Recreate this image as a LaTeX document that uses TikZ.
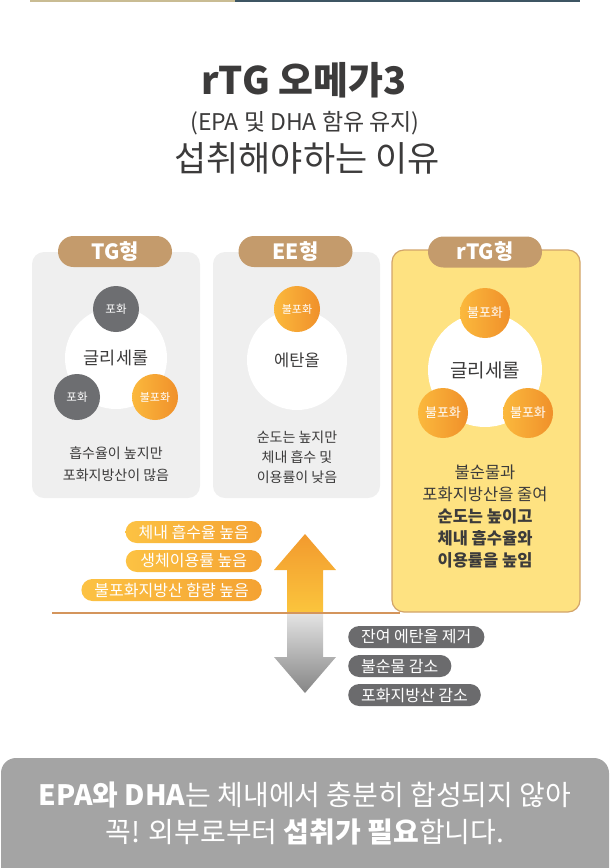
\documentclass[tikz,border=0pt]{standalone}
\usepackage{fontspec}
\setmainfont{Noto Sans CJK KR}
\newcommand{\txtsize}[2]{\fontsize{#1}{#2}\selectfont}

\definecolor{darktext}{HTML}{3C3B3B}
\definecolor{panelgray}{HTML}{EFEFEF}
\definecolor{tagtan}{HTML}{C49B6C}
\definecolor{satgray}{HTML}{6D6E71}
\definecolor{unsatlight}{HTML}{FBB93D}
\definecolor{unsatdark}{HTML}{F0902A}
\definecolor{rtgyellow}{HTML}{FEE281}
\definecolor{rtgedge}{HTML}{D2A46A}
\definecolor{divline}{HTML}{D4955C}
\definecolor{gainlight}{HTML}{FCC243}
\definecolor{gaindark}{HTML}{F4A233}
\definecolor{lossgray}{HTML}{6B6B6D}
\definecolor{uptop}{HTML}{F29A2E}
\definecolor{upbottom}{HTML}{FBC53D}
\definecolor{downtop}{HTML}{E4E4E4}
\definecolor{downbottom}{HTML}{858585}
\definecolor{bannergray}{HTML}{A4A4A4}
\definecolor{stripbeige}{HTML}{C9BC93}
\definecolor{stripslate}{HTML}{3E5563}

\begin{document}
\begin{tikzpicture}[x=1pt, y=-1pt,
  panel/.style={rectangle, rounded corners=12pt, fill=panelgray, inner sep=0pt},
  tag/.style={rectangle, rounded corners=15.5pt, fill=tagtan, minimum width=114pt, minimum height=31pt, inner sep=0pt, text=white, font=\txtsize{21}{21}\bfseries},
  core/.style={circle, fill=white, inner sep=0pt, text=darktext},
  acid/.style={circle, inner sep=0pt, minimum size=46pt, text=white, font=\txtsize{11.5}{11.5}},
  sat/.style={acid, fill=satgray},
  unsat/.style={acid, left color=unsatlight, right color=unsatdark},
  note/.style={align=center, text=darktext},
  pill/.style={rectangle, rounded corners=11pt, minimum height=22pt, inner xsep=13pt, inner ysep=0pt, text=white, font=\txtsize{16}{16}},
  gain/.style={pill, left color=gainlight, right color=gaindark, anchor=east},
  loss/.style={pill, fill=lossgray, anchor=west}]

\useasboundingbox (0,0) rectangle (610,868);

\fill[stripbeige] (30,0) rectangle (235,2);
\fill[stripslate] (235,0) rectangle (580,2);

\node[font=\txtsize{38}{38}\bfseries, text=darktext] (title) at (304,80) {rTG 오메가3};
\node[font=\txtsize{23}{23}, text=darktext] (subtitle) at (305,123) {(EPA 및 DHA 함유 유지)};
\node[font=\txtsize{35}{35}, text=darktext] (reason) at (307,158) {섭취해야하는 이유};

\node[panel, minimum width=168pt, minimum height=246pt] (tgbox) at (116,375) {};
\node[panel, minimum width=167pt, minimum height=246pt] (eebox) at (296.5,375) {};

\path[top color=uptop, bottom color=upbottom] (287,613) -- (287,570) -- (274,570) -- (305,534) -- (336,570) -- (323,570) -- (323,613) -- cycle;
\path[top color=downtop, bottom color=downbottom] (287,613) -- (323,613) -- (323,657) -- (336,657) -- (305,693) -- (274,657) -- (287,657) -- cycle;

\coordinate (divleft) at (52,613);
\coordinate (divright) at (400,613);
\draw[divline, line width=1.3pt] (divleft) -- (divright);

\node[panel, fill=rtgyellow, draw=rtgedge, line width=1.2pt, minimum width=188pt, minimum height=362pt] (rtgbox) at (486,431) {};

\node[core, minimum size=102pt, font=\txtsize{17.5}{17.5}] (tgcore) at (116,358) {글리세롤};
\node[sat] (tgtop) at (116,309) {포화};
\node[sat] (tgleft) at (77,397) {포화};
\node[unsat, font=\txtsize{11}{11}] (tgright) at (155,397) {불포화};

\node[core, minimum size=100pt, font=\txtsize{16.5}{16.5}] (eecore) at (297,360) {에탄올};
\node[unsat, font=\txtsize{11}{11}] (eetop) at (297,309) {불포화};

\node[core, minimum size=114pt, font=\txtsize{19}{19}] (rtgcore) at (485,370) {글리세롤};
\node[unsat, minimum size=50pt, font=\txtsize{13}{13}] (rtgtop) at (485,313) {불포화};
\node[unsat, minimum size=50pt, font=\txtsize{13}{13}] (rtgleft) at (443,413) {불포화};
\node[unsat, minimum size=50pt, font=\txtsize{13}{13}] (rtgright) at (528,413) {불포화};

\node[tag] (tgtag) at (115,251.5) {TG형};
\node[tag] (eetag) at (295.5,251.5) {EE형};
\node[tag] (rtgtag) at (485,252) {rTG형};

\node[note, font=\txtsize{14}{22}] (tgnote) at (116,464) {흡수율이 높지만\\포화지방산이 많음};
\node[note, font=\txtsize{14}{20}] (eenote) at (297,457) {순도는 높지만\\체내 흡수 및\\이용률이 낮음};
\node[note, font=\txtsize{16.5}{22}] (rtgnote) at (485,516) {불순물과\\포화지방산을 줄여\\\textbf{순도는 높이고}\\\textbf{체내 흡수율와}\\\textbf{이용률을 높임}};

\node[gain, minimum width=136pt] (gain1) at (262,532) {체내 흡수율 높음};
\node[gain, minimum width=136pt] (gain2) at (262,561) {생체이용률 높음};
\node[gain] (gain3) at (262,590) {불포화지방산 함량 높음};

\node[loss] (loss1) at (348,637) {잔여 에탄올 제거};
\node[loss] (loss2) at (348,666) {불순물 감소};
\node[loss] (loss3) at (348,695) {포화지방산 감소};

\fill[bannergray] (1,868) [rounded corners=15pt] -- (1,758) -- (609,758) [sharp corners] -- (609,868) -- cycle;
\node[font=\txtsize{28}{28}, text=white] (banner1) at (305,795) {\textbf{EPA와 DHA}는 체내에서 충분히 합성되지 않아};
\node[font=\txtsize{28}{28}, text=white] (banner2) at (305,832) {꼭! 외부로부터 \textbf{섭취가 필요}합니다.};
\end{tikzpicture}
\end{document}
